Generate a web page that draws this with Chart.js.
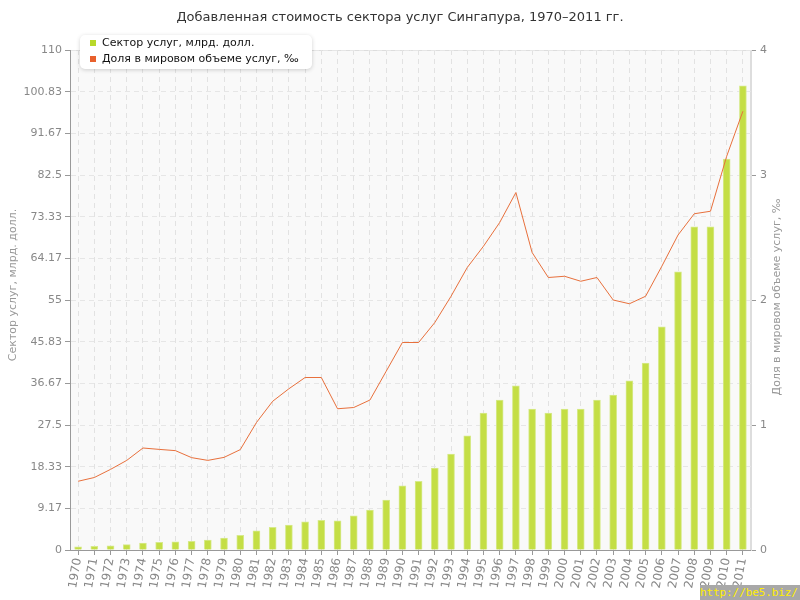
<!DOCTYPE html>
<html>
<head>
<meta charset="utf-8">
<script src="https://cdn.jsdelivr.net/npm/chart.js@4"></script>
<style>
  body { margin: 0; background: #fff; overflow: hidden; }
  #wrap { position: relative; width: 800px; height: 600px; overflow: hidden; }
  #watermark { position: absolute; left: 700px; top: 585px; width: 100px; height: 15px; background: #a8a8a8;
    color: #ffee00; font: 11px "DejaVu Sans Mono", monospace; line-height: 15px; letter-spacing: -0.1px; white-space: nowrap; }
</style>
</head>
<body>
<div id="wrap">
  <canvas id="chart" width="800" height="600"></canvas>
  <div id="watermark">http://be5.biz/</div>
</div>
<script>
let years = [];
for (let y = 1970; y <= 2011; y++) years.push(String(y));

let services = [0.7, 0.8, 0.9, 1.2, 1.5, 1.7, 1.8, 1.9, 2.2, 2.6, 3.2, 4.2, 5.0, 5.5, 6.2, 6.5, 6.4, 7.5, 8.8, 11.0,
    14.1, 15.1, 18.0, 21.1, 25.1, 30.1, 33.0, 36.1, 31.0, 30.1, 31.0, 31.0, 33.0, 34.1, 37.2, 41.1, 49.1, 61.2, 71.1, 71.1,
    86.0, 102.1];
let worldShare = [0.55, 0.58, 0.645, 0.717, 0.816, 0.805, 0.795, 0.739, 0.717, 0.741, 0.803, 1.02, 1.19, 1.29, 1.38, 1.38,
    1.13, 1.14, 1.20, 1.43, 1.66, 1.66, 1.82, 2.03, 2.26, 2.43, 2.62, 2.86, 2.38, 2.18, 2.19, 2.15, 2.18, 2.00, 1.97,
    2.03, 2.27, 2.52, 2.69, 2.71, 3.15, 3.51];
let leftTicks = [0, 9.17, 18.33, 27.5, 36.67, 45.83, 55, 64.17, 73.33, 82.5, 91.67, 100.83, 110];
let rightTicks = [0, 1, 2, 3, 4];

const FONT = '"DejaVu Sans", Verdana, sans-serif';

// background, title, axis titles and legend box
const decor = {
    id: 'decor',
    beforeDraw(chart) {
        const { ctx, chartArea: a } = chart;
        ctx.save();
        ctx.fillStyle = '#f9f9f9';
        ctx.fillRect(a.left, a.top, a.right - a.left, a.bottom - a.top);
        ctx.strokeStyle = '#dddddd';
        ctx.lineWidth = 1;
        ctx.beginPath();
        ctx.moveTo(a.left, a.top + 0.5);
        ctx.lineTo(a.right, a.top + 0.5);
        ctx.moveTo(a.right - 0.5, a.top);
        ctx.lineTo(a.right - 0.5, a.bottom);
        ctx.stroke();
        ctx.restore();
    },
    afterDraw(chart) {
        const { ctx, chartArea: a } = chart;
        ctx.save();
        ctx.fillStyle = '#333';
        ctx.font = '13px ' + FONT;
        ctx.textAlign = 'center';
        ctx.textBaseline = 'middle';
        ctx.fillText('Добавленная стоимость сектора услуг Сингапура, 1970–2011 гг.', 400, 18);

        ctx.fillStyle = '#999';
        ctx.font = '11px ' + FONT;
        ctx.save();
        ctx.translate(13, 285);
        ctx.rotate(-Math.PI / 2);
        ctx.fillText('Сектор услуг, млрд. долл.', 0, 0);
        ctx.restore();
        ctx.save();
        ctx.translate(777, 297);
        ctx.rotate(-Math.PI / 2);
        ctx.fillText('Доля в мировом объеме услуг, ‰', 0, 0);
        ctx.restore();

        // legend
        ctx.shadowColor = 'rgba(0,0,0,0.18)';
        ctx.shadowBlur = 4;
        ctx.shadowOffsetY = 1;
        ctx.fillStyle = '#fff';
        ctx.beginPath();
        ctx.roundRect(80, 35, 232, 34, 5);
        ctx.fill();
        ctx.shadowColor = 'transparent';
        ctx.fillStyle = '#b8d82a';
        ctx.fillRect(90, 40, 6, 6);
        ctx.fillStyle = '#e8602c';
        ctx.fillRect(90, 56, 6, 6);
        ctx.fillStyle = '#111';
        ctx.textAlign = 'left';
        ctx.font = '11px ' + FONT;
        ctx.fillText('Сектор услуг, млрд. долл.', 102, 43);
        ctx.fillText('Доля в мировом объеме услуг, ‰', 102, 59);
        ctx.restore();
    }
};

const ctx = document.getElementById('chart').getContext('2d');
new Chart(ctx, {
    data: {
        labels: years,
        datasets: [{
            type: 'line',
            label: 'Доля в мировом объеме услуг, ‰',
            data: worldShare,
            yAxisID: 'y1',
            borderColor: '#e8703c',
            borderWidth: 1,
            pointRadius: 0,
            tension: 0,
            order: 0
        }, {
            type: 'bar',
            label: 'Сектор услуг, млрд. долл.',
            data: services,
            yAxisID: 'y',
            backgroundColor: '#c4de45',
            borderColor: '#d7ea8c',
            borderWidth: 1,
            barThickness: 7,
            order: 1
        }]
    },
    options: {
        responsive: false,
        animation: false,
        layout: { padding: { top: 50 } },
        plugins: { legend: { display: false }, tooltip: { enabled: false } },
        scales: {
            x: {
                offset: true,
                z: 1,
                grid: { color: '#e2e2e2', tickColor: '#999', tickLength: 5, offset: false },
                border: { color: '#999', dash: [5, 4] },
                ticks: { color: '#888', font: { family: FONT, size: 12 }, minRotation: 80, maxRotation: 80, autoSkip: false, padding: 2 },
                afterFit: s => { s.height = 50; }
            },
            y: {
                position: 'left',
                min: 0, max: 110,
                afterBuildTicks: s => { s.ticks = leftTicks.map(v => ({ value: v })); },
                grid: { color: '#e6e6e6', tickColor: '#999', tickLength: 5 },
                border: { color: '#999', dash: [5, 4] },
                ticks: { color: '#888', font: { family: FONT, size: 11 }, padding: 3, callback: v => String(v) },
                afterFit: s => { s.width = 70; }
            },
            y1: {
                position: 'right',
                min: 0, max: 4,
                afterBuildTicks: s => { s.ticks = rightTicks.map(v => ({ value: v })); },
                grid: { drawOnChartArea: false, tickColor: '#999', tickLength: 5 },
                border: { color: '#dddddd' },
                ticks: { color: '#888', font: { family: FONT, size: 11 }, padding: 4 },
                afterFit: s => { s.width = 49; }
            }
        }
    },
    plugins: [decor]
});
</script>
</body>
</html>
